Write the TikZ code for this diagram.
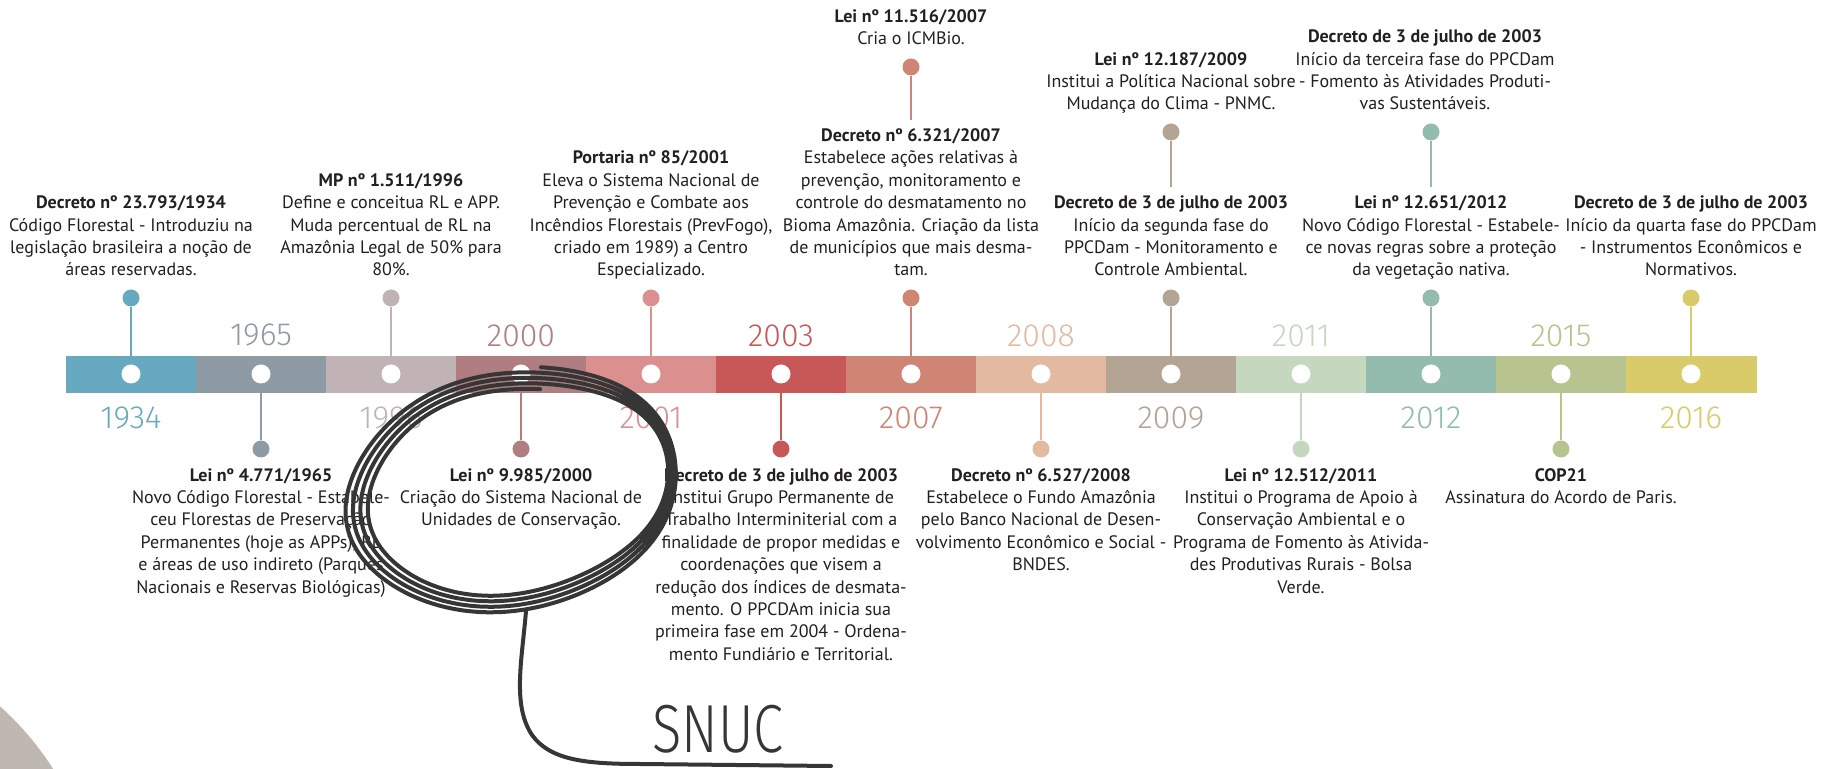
\documentclass[tikz,border=0pt]{standalone}
\usepackage{fontspec}
\setmainfont{PT Sans}
\newfontfamily\fina{Fira Sans Light}
\newfontfamily\mao[FakeStretch=0.8]{Fira Sans Light}
\usetikzlibrary{positioning}

\definecolor{c1934}{HTML}{67A9C0}
\definecolor{c1965}{HTML}{8E9BA4}
\definecolor{c1996}{HTML}{C0B2B5}
\definecolor{c2000}{HTML}{B07D80}
\definecolor{c2001}{HTML}{DC8F8F}
\definecolor{c2003}{HTML}{C85757}
\definecolor{c2007}{HTML}{D08474}
\definecolor{c2008}{HTML}{E4B9A1}
\definecolor{c2009}{HTML}{B3A494}
\definecolor{c2011}{HTML}{C6D7C0}
\definecolor{c2012}{HTML}{93BBAE}
\definecolor{c2015}{HTML}{B8C48F}
\definecolor{c2016}{HTML}{D9CB6A}
\definecolor{texto}{HTML}{231F20}
\definecolor{tinta}{HTML}{363636}
\definecolor{canto}{HTML}{BFB8B0}

\begin{document}
\begin{tikzpicture}[x=0.5pt,y=-0.5pt,
	seg/.style={fill=#1,draw=#1,line width=0.2pt,minimum width=65pt,minimum height=18pt,inner sep=0pt,outer sep=0pt},
	furo/.style={circle,fill=white,minimum size=9.5pt,inner sep=0pt},
	ponto/.style={circle,fill=#1,minimum size=8.5pt,inner sep=0pt},
	haste/.style={draw=#1,line width=1pt},
	ano/.style={text=#1,inner sep=0pt,font=\fina\fontsize{16}{16}\selectfont},
	ev/.style={align=center,inner sep=0pt,text=texto,font=\fontsize{9}{11.2}\selectfont,execute at begin node=\strut,execute at end node=\strut},
	rabisco/.style={draw=tinta,line width=2pt,line cap=round,line join=round}]
	
	\useasboundingbox (0,0) rectangle (1827,769);
	
	% canto
	\begin{scope}
		\clip (0,0) rectangle (1827,769);
		\fill[canto] (-200,930) circle[radius=300];
	\end{scope}
	
	% barra
	\node[seg=c1934] (s1) at (131,374) {};
	\node[seg=c1965] (s2) at (261,374) {};
	\node[seg=c1996] (s3) at (391,374) {};
	\node[seg=c2000] (s4) at (521,374) {};
	\node[seg=c2001] (s5) at (651,374) {};
	\node[seg=c2003] (s6) at (781,374) {};
	\node[seg=c2007] (s7) at (911,374) {};
	\node[seg=c2008] (s8) at (1041,374) {};
	\node[seg=c2009] (s9) at (1171,374) {};
	\node[seg=c2011] (s10) at (1301,374) {};
	\node[seg=c2012] (s11) at (1431,374) {};
	\node[seg=c2015] (s12) at (1561,374) {};
	\node[seg=c2016] (s13) at (1691,374) {};
	
	\node[furo] (f1) at (s1) {};
	\node[furo] (f2) at (s2) {};
	\node[furo] (f3) at (s3) {};
	\node[furo] (f4) at (s4) {};
	\node[furo] (f5) at (s5) {};
	\node[furo] (f6) at (s6) {};
	\node[furo] (f7) at (s7) {};
	\node[furo] (f8) at (s8) {};
	\node[furo] (f9) at (s9) {};
	\node[furo] (f10) at (s10) {};
	\node[furo] (f11) at (s11) {};
	\node[furo] (f12) at (s12) {};
	\node[furo] (f13) at (s13) {};
	
	% anos
	\node[ano=c1934,below=7pt of s1] (a1) {1934};
	\node[ano=c1965,above=4.5pt of s2] (a2) {1965};
	\node[ano=c1996,below=7pt of s3] (a3) {1996};
	\node[ano=c2000,above=4.5pt of s4] (a4) {2000};
	\node[ano=c2001,below=7pt of s5] (a5) {2001};
	\node[ano=c2003,above=4.5pt of s6] (a6) {2003};
	\node[ano=c2007,below=7pt of s7] (a7) {2007};
	\node[ano=c2008,above=4.5pt of s8] (a8) {2008};
	\node[ano=c2009,below=7pt of s9] (a9) {2009};
	\node[ano=c2011,above=4.5pt of s10] (a10) {2011};
	\node[ano=c2012,below=7pt of s11] (a11) {2012};
	\node[ano=c2015,above=4.5pt of s12] (a12) {2015};
	\node[ano=c2016,below=7pt of s13] (a13) {2016};
	
	% pinos de cima
	\node[ponto=c1934] (p1) at (131,298) {};
	\node[ponto=c1996] (p3) at (391,298) {};
	\node[ponto=c2001] (p5) at (651,298) {};
	\node[ponto=c2007] (p7) at (911,298) {};
	\node[ponto=c2009] (p9) at (1171,298) {};
	\node[ponto=c2012] (p11) at (1431,298) {};
	\node[ponto=c2016] (p13) at (1691,298) {};
	\draw[haste=c1934] (p1) -- (s1.north);
	\draw[haste=c1996] (p3) -- (s3.north);
	\draw[haste=c2001] (p5) -- (s5.north);
	\draw[haste=c2007] (p7) -- (s7.north);
	\draw[haste=c2009] (p9) -- (s9.north);
	\draw[haste=c2012] (p11) -- (s11.north);
	\draw[haste=c2016] (p13) -- (s13.north);
	
	\node[ponto=c2007] (q7) at (911,67) {};
	\node[ponto=c2009] (q9) at (1171,132) {};
	\node[ponto=c2012] (q11) at (1431,132) {};
	\coordinate (q7fim) at (911,120);
	\coordinate (q9fim) at (1171,187);
	\coordinate (q11fim) at (1431,187);
	\draw[haste=c2007] (q7) -- (q7fim);
	\draw[haste=c2009] (q9) -- (q9fim);
	\draw[haste=c2012] (q11) -- (q11fim);
	
	% pinos de baixo
	\node[ponto=c1965] (p2) at (261,449) {};
	\node[ponto=c2000] (p4) at (521,449) {};
	\node[ponto=c2003] (p6) at (781,449) {};
	\node[ponto=c2008] (p8) at (1041,449) {};
	\node[ponto=c2011] (p10) at (1301,449) {};
	\node[ponto=c2015] (p12) at (1561,449) {};
	\draw[haste=c1965] (s2.south) -- (p2);
	\draw[haste=c2000] (s4.south) -- (p4);
	\draw[haste=c2003] (s6.south) -- (p6);
	\draw[haste=c2008] (s8.south) -- (p8);
	\draw[haste=c2011] (s10.south) -- (p10);
	\draw[haste=c2015] (s12.south) -- (p12);
	
	% textos de cima
	\node[ev,above=3pt of p1] (e1) {\textbf{Decreto nº 23.793/1934}\\Código Florestal - Introduziu na\\legislação brasileira a noção de\\áreas reservadas.};
	\node[ev,above=3pt of p3] (e3) {\textbf{MP nº 1.511/1996}\\Define e conceitua RL e APP.\\Muda percentual de RL na\\Amazônia Legal de 50\% para\\80\%.};
	\node[ev,above=3pt of p5] (e5) {\textbf{Portaria nº 85/2001}\\Eleva o Sistema Nacional de\\Prevenção e Combate aos\\Incêndios Florestais (PrevFogo),\\criado em 1989) a Centro\\Especializado.};
	\node[ev,above=3pt of p7] (e7) {\textbf{Decreto nº 6.321/2007}\\Estabelece ações relativas à\\prevenção, monitoramento e\\controle do desmatamento no\\Bioma Amazônia. Criação da lista\\de municípios que mais desma-\\tam.};
	\node[ev,above=3pt of p9] (e9) {\textbf{Decreto de 3 de julho de 2003}\\Início da segunda fase do\\PPCDam - Monitoramento e\\Controle Ambiental.};
	\node[ev,above=3pt of p11] (e11) {\textbf{Lei nº 12.651/2012}\\Novo Código Florestal - Estabele-\\ce novas regras sobre a proteção\\da vegetação nativa.};
	\node[ev,above=3pt of p13] (e13) {\textbf{Decreto de 3 de julho de 2003}\\Início da quarta fase do PPCDam\\- Instrumentos Econômicos e\\Normativos.};
	\node[ev,above=3pt of q7] (t7) {\textbf{Lei nº 11.516/2007}\\Cria o ICMBio.};
	\node[ev,above=3pt of q9] (t9) {\textbf{Lei nº 12.187/2009}\\Institui a Política Nacional sobre\\Mudança do Clima - PNMC.};
	\node[ev,above=3pt of q11,xshift=-3pt] (t11) {\textbf{Decreto de 3 de julho de 2003}\\Início da terceira fase do PPCDam\\- Fomento às Atividades Produti-\\vas Sustentáveis.};
	
	% textos de baixo
	\node[ev,below=5pt of p2] (e2) {\textbf{Lei nº 4.771/1965}\\Novo Código Florestal - Estabele-\\ceu Florestas de Preservação\\Permanentes (hoje as APPs), RL\\e áreas de uso indireto (Parques\\Nacionais e Reservas Biológicas)};
	\node[ev,below=5pt of p4] (e4) {\textbf{Lei nº 9.985/2000}\\Criação do Sistema Nacional de\\Unidades de Conservação.};
	\node[ev,below=5pt of p6] (e6) {\textbf{Decreto de 3 de julho de 2003}\\Institui Grupo Permanente de\\Trabalho Interminiterial com a\\finalidade de propor medidas e\\coordenações que visem a\\redução dos índices de desmata-\\mento. O PPCDAm inicia sua\\primeira fase em 2004 - Ordena-\\mento Fundiário e Territorial.};
	\node[ev,below=5pt of p8] (e8) {\textbf{Decreto nº 6.527/2008}\\Estabelece o Fundo Amazônia\\pelo Banco Nacional de Desen-\\volvimento Econômico e Social -\\BNDES.};
	\node[ev,below=5pt of p10] (e10) {\textbf{Lei nº 12.512/2011}\\Institui o Programa de Apoio à\\Conservação Ambiental e o\\Programa de Fomento às Ativida-\\des Produtivas Rurais - Bolsa\\Verde.};
	\node[ev,below=5pt of p12] (e12) {\textbf{COP21}\\Assinatura do Acordo de Paris.};
	
	% rabisco do SNUC
	\draw[rabisco,rotate around={10:(518,489)}] plot[smooth,samples=220,domain=75:1515] ({518+(150+(\x-75)/72*(1-0.5*cos(\x))+3*sin(2*\x))*cos(\x)},{489-(100+(\x-75)/65+3*cos(3*\x))*sin(\x)});
	\coordinate (cauda) at (526,611);
	\coordinate (traco) at (831,766);
	\draw[rabisco] (cauda) .. controls (522,660) and (512,705) .. (532,735) .. controls (550,760) and (585,764) .. (640,764) -- (traco);
	\node[text=tinta,inner sep=0pt,font=\mao\fontsize{34}{34}\selectfont] (snuc) at (718,729) {SNUC};
\end{tikzpicture}
\end{document}
